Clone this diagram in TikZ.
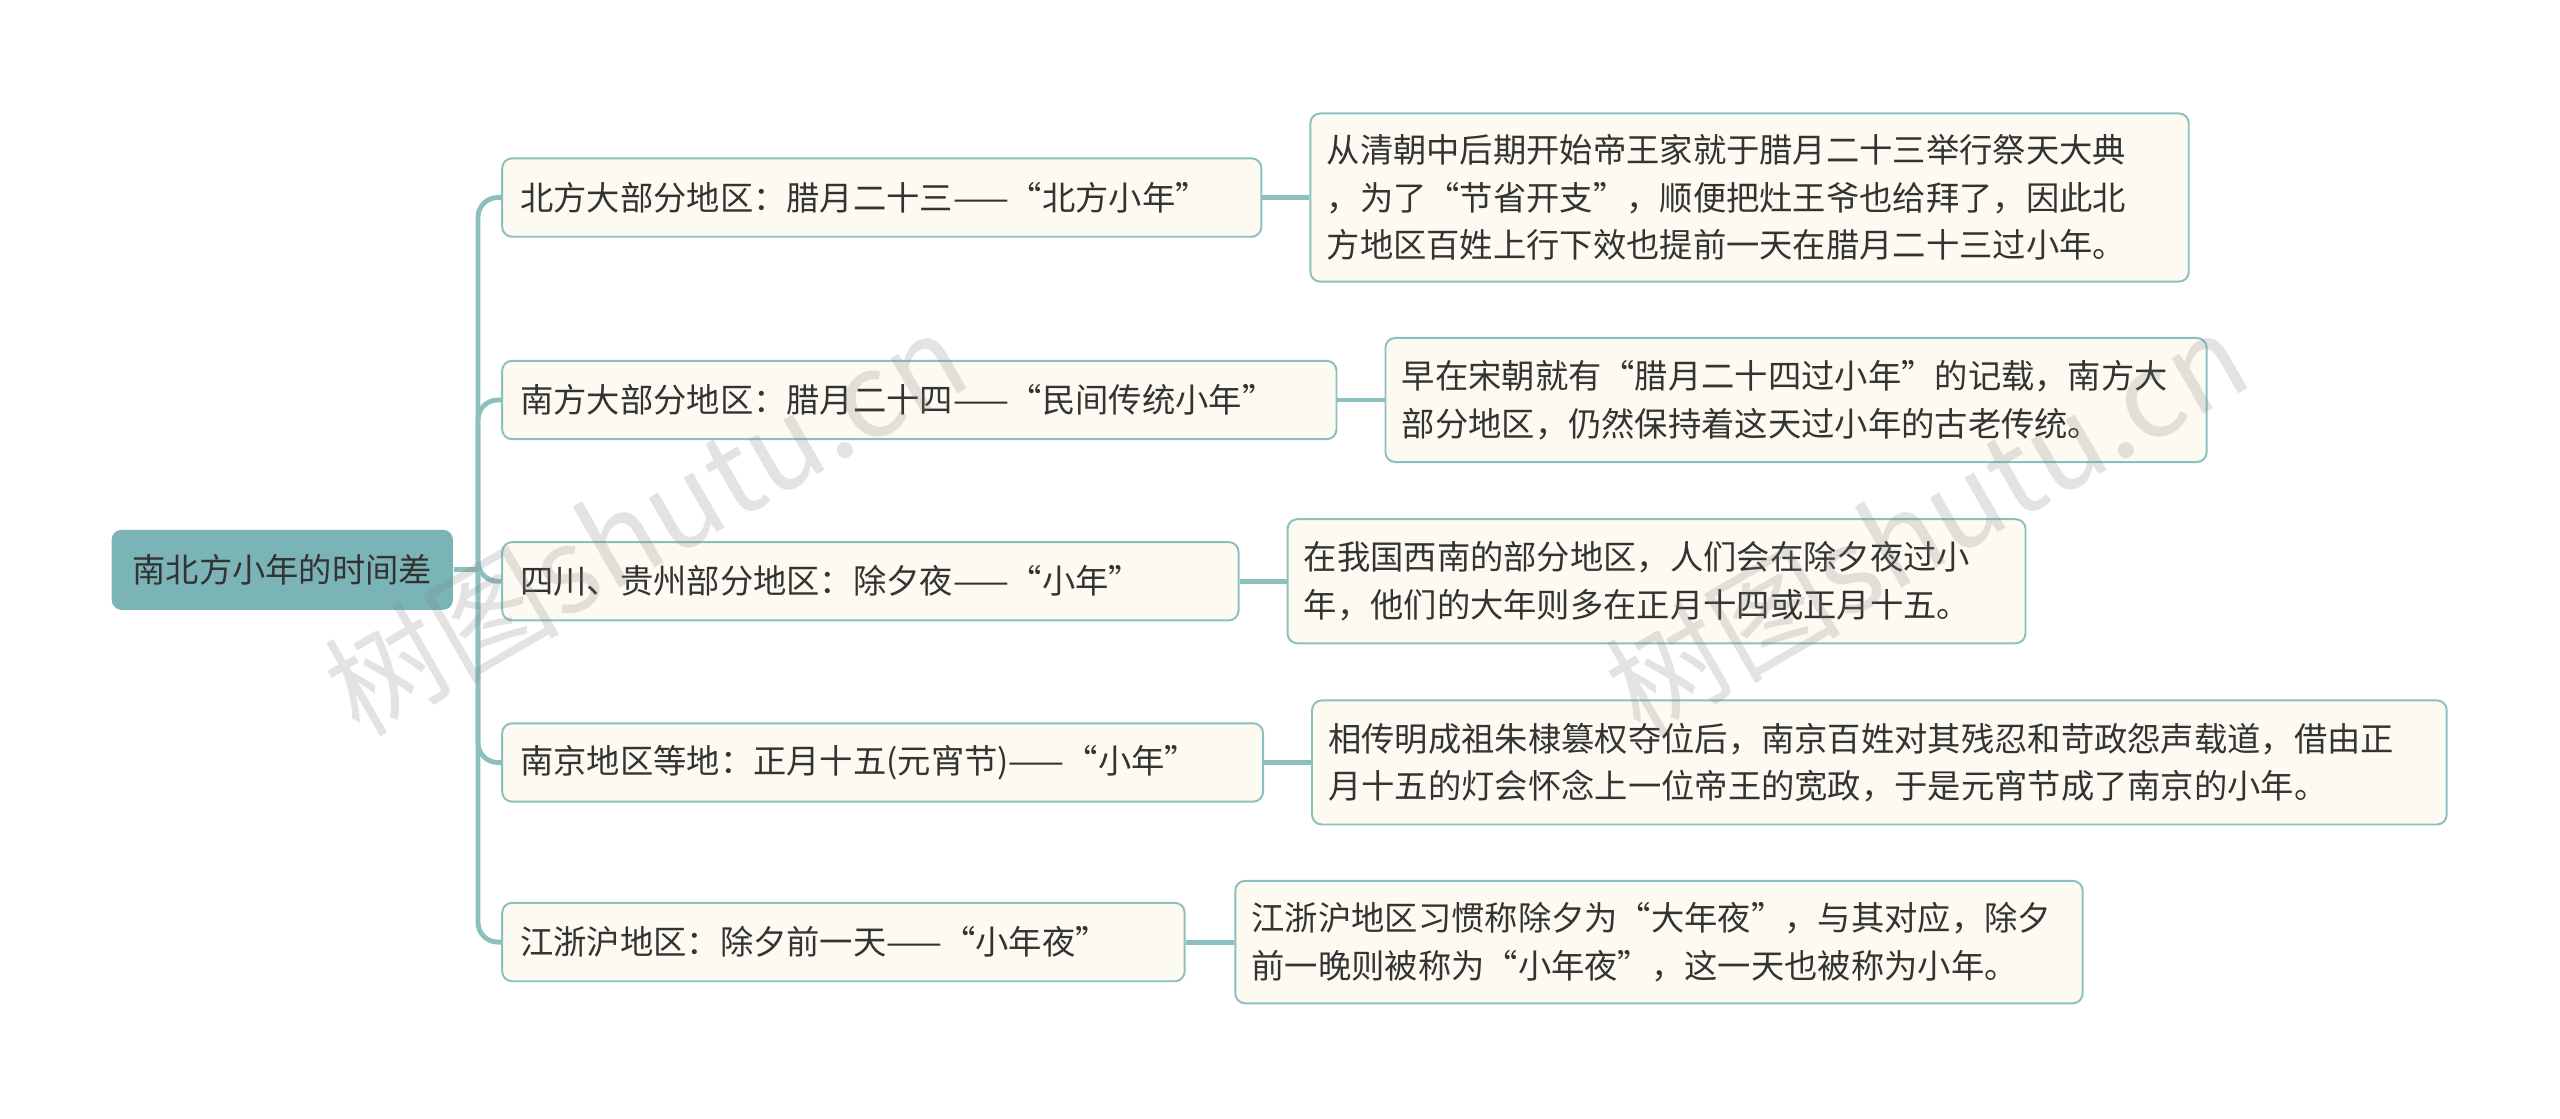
\documentclass[tikz,border=0pt]{standalone}
\usepackage{fontspec}
\setmainfont{Noto Sans CJK SC}
\begin{document}
\begin{tikzpicture}[x=0.5pt,y=-0.5pt,
  every node/.style={font=\fontsize{10.2}{14.5}\selectfont, text=black!80},
  ln/.style={draw=lc, line width=1.5pt},
  rootbox/.style={fill=rootc, rounded corners=3pt, anchor=west, inner xsep=5.5pt, minimum height=24.5pt, minimum width=104.5pt, align=center},
  brbox/.style={draw=lc, line width=0.6pt, fill=boxc, rounded corners=3pt, anchor=west, inner xsep=5.5pt, minimum height=24pt, align=left},
  detbox/.style={draw=lc, line width=0.6pt, fill=boxc, rounded corners=3pt, anchor=west, inner xsep=5pt, align=left},
  wm/.style={text=gray, text opacity=0.22, font=\fontsize{36}{36}\selectfont, rotate=30}]
\definecolor{lc}{HTML}{8DBFBE}
\definecolor{rootc}{HTML}{7AB4B6}
\definecolor{boxc}{HTML}{FDFBF1}
\useasboundingbox (0,0) rectangle (1568,685);
\node[rootbox] (root) at (68,349) {南北方小年的时间差};
\node[brbox, text width=221.5pt] (b1) at (307,121) {北方大部分地区：腊月二十三——“北方小年”};
\node[brbox, text width=244.5pt] (b2) at (307,245) {南方大部分地区：腊月二十四——“民间传统小年”};
\node[brbox, text width=214.5pt] (b3) at (307,356) {四川、贵州部分地区：除夕夜——“小年”};
\node[brbox, text width=222pt] (b4) at (307,467) {南京地区等地：正月十五(元宵节)——“小年”};
\node[brbox, text width=198pt] (b5) at (307,577) {江浙沪地区：除夕前一天——“小年夜”};
\node[detbox, text width=259pt, minimum height=51.5pt] (d1) at (802,121) {从清朝中后期开始帝王家就于腊月二十三举行祭天大典\\，为了“节省开支”，顺便把灶王爷也给拜了，因此北\\方地区百姓上行下效也提前一天在腊月二十三过小年。};
\node[detbox, text width=241.5pt, minimum height=38pt] (d2) at (848,245) {早在宋朝就有“腊月二十四过小年”的记载，南方大\\部分地区，仍然保持着这天过小年的古老传统。};
\node[detbox, text width=216pt, minimum height=38pt] (d3) at (788,356) {在我国西南的部分地区，人们会在除夕夜过小\\年，他们的大年则多在正月十四或正月十五。};
\node[detbox, text width=337.5pt, minimum height=38pt] (d4) at (803,467) {相传明成祖朱棣篡权夺位后，南京百姓对其残忍和苛政怨声载道，借由正\\月十五的灯会怀念上一位帝王的宽政，于是元宵节成了南京的小年。};
\node[detbox, text width=249.5pt, minimum height=37.5pt] (d5) at (756,577) {江浙沪地区习惯称除夕为“大年夜”，与其对应，除夕\\前一晚则被称为“小年夜”，这一天也被称为小年。};
\draw[ln] (root.east) -- ++(15,0) coordinate (j);
\foreach \i in {1,...,5} {
  \draw[ln, rounded corners=6pt] (j) |- (b\i.west);
  \draw[ln] (b\i.east) -- (b\i.east -| d\i.west);
}
\node[wm] (w1) at (395,320) {树图shutu.cn};
\node[wm] (w2) at (1180,320) {树图shutu.cn};
\end{tikzpicture}
\end{document}
